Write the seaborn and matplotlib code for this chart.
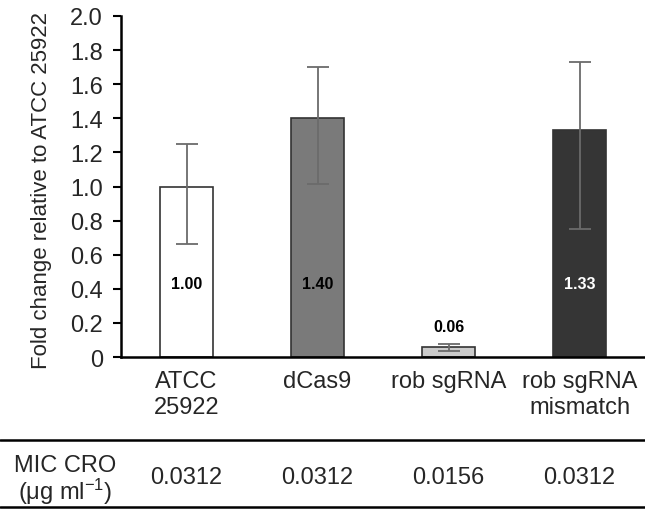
import matplotlib
matplotlib.use('Agg')
import matplotlib.pyplot as plt
import seaborn as sns
import pandas as pd
from matplotlib.lines import Line2D

# donnees
categories = ['ATCC\n25922', 'dCas9', 'rob sgRNA', 'rob sgRNA\nmismatch']
fold_change = [1.00, 1.40, 0.06, 1.33]
err_low = [0.34, 0.385, 0.025, 0.58]
err_high = [0.25, 0.30, 0.016, 0.40]
value_labels = ['1.00', '1.40', '0.06', '1.33']
mic_cro = ['0.0312', '0.0312', '0.0156', '0.0312']
bar_colors = ['#ffffff', '#7a7a7a', '#cbcbcb', '#353535']

sns.set_style('white')
plt.rcParams['font.family'] = ['Liberation Sans', 'DejaVu Sans']
plt.rcParams['mathtext.fontset'] = 'custom'
plt.rcParams['mathtext.rm'] = 'Liberation Sans'
plt.rcParams['mathtext.default'] = 'regular'

df = pd.DataFrame({'cat': categories, 'val': fold_change})

fig = plt.figure(figsize=(6.45, 5.10), dpi=100)
ax = fig.add_axes([0.1876, 0.298, 0.8124, 0.6687])

sns.barplot(data=df, x='cat', y='val', hue='cat', palette=bar_colors, legend=False,
            width=0.4, edgecolor='#333333', linewidth=1.2, ax=ax)
ax.errorbar(range(len(categories)), fold_change, yerr=[err_low, err_high], fmt='none',
            ecolor='#6b6b6b', elinewidth=1.3, capsize=8, capthick=1.3)

# etiquettes des valeurs
for i, lab in enumerate(value_labels):
    if fold_change[i] < 0.2:
        y = 0.18
    else:
        y = 0.43
    col = 'white' if i == 3 else 'black'
    ax.text(i, y, lab, ha='center', va='center', fontsize=11.5, fontweight='bold', color=col)

ax.set_xlim(-0.5, 3.5)
ax.set_ylim(0, 2.0)
ax.set_yticks([0, 0.2, 0.4, 0.6, 0.8, 1.0, 1.2, 1.4, 1.6, 1.8, 2.0])
ax.set_yticklabels(['0', '0.2', '0.4', '0.6', '0.8', '1.0', '1.2', '1.4', '1.6', '1.8', '2.0'], fontsize=17)
ax.tick_params(axis='y', direction='out', length=6, width=1.5, color='black', left=True, pad=7)
ax.tick_params(axis='x', length=0, labelsize=17, pad=9)
for t in ax.get_xticklabels():
    t.set_linespacing(1.25)
ax.set_xlabel('')
ax.set_ylabel('')
sns.despine(ax=ax, top=True, right=True)
ax.spines['left'].set_linewidth(1.8)
ax.spines['bottom'].set_linewidth(1.8)
ax.spines['left'].set_color('black')
ax.spines['bottom'].set_color('black')

fig.text(42 / 645, 1 - 369 / 510, 'Fold change relative to ATCC 25922', rotation=90,
         ha='center', va='bottom', fontsize=16)

# tableau MIC
fig.add_artist(Line2D([0, 1], [1 - 441 / 510, 1 - 441 / 510], color='black', lw=1.8))
fig.add_artist(Line2D([0, 1], [1 - 508 / 510, 1 - 508 / 510], color='black', lw=1.8))
fig.text(65 / 645, 1 - 466 / 510, 'MIC CRO', ha='center', va='center', fontsize=17)
fig.text(65 / 645, 1 - 492 / 510, '(μg ml$^{-1}$)', ha='center', va='center', fontsize=17)
for i, v in enumerate(mic_cro):
    ax.text(i, (358 - 478) / 341, v, ha='center', va='center', fontsize=17,
            transform=ax.get_xaxis_transform())

fig.savefig('out.png', dpi=100)
